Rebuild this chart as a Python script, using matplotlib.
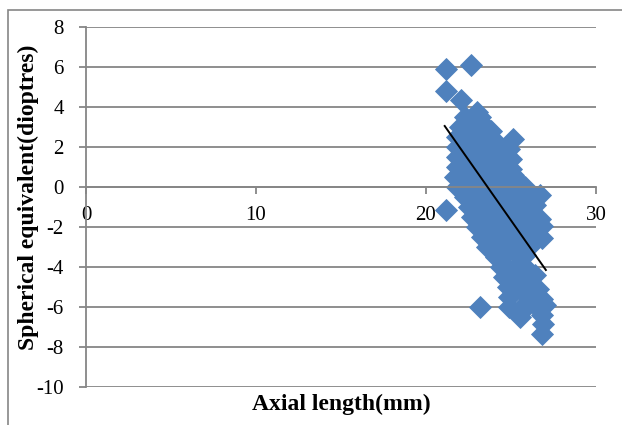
import matplotlib.pyplot as plt
from matplotlib.patches import Rectangle

# axial length (mm) vs spherical equivalent (dioptres)
axial = [21.2, 22.65, 21.2, 22.05, 23.0, 25.1, 21.2, 23.2, 26.8, 26.9,
         22.3, 22.8, 23.2,
         22.0, 22.5, 23.0, 23.5, 23.8,
         21.8, 22.3, 22.8, 23.3, 23.7, 24.05,
         21.8, 22.3, 22.8, 23.3, 23.8, 24.3, 24.9,
         21.8, 22.2, 22.7, 23.2, 23.7, 24.2, 24.6, 25.0,
         21.8, 22.3, 22.8, 23.3, 23.8, 24.3, 24.7, 25.0,
         21.7, 22.2, 22.7, 23.2, 23.7, 24.2, 24.7, 25.1, 25.4,
         21.8, 22.3, 22.8, 23.3, 23.8, 24.3, 24.8, 25.3, 25.8, 26.7,
         22.3, 22.8, 23.3, 23.8, 24.3, 24.8, 25.3, 25.8, 26.4,
         22.5, 23.0, 23.5, 24.0, 24.5, 25.0, 25.5, 26.0, 26.4,
         22.7, 23.2, 23.7, 24.2, 24.7, 25.2, 25.7, 26.2, 26.7,
         23.0, 23.5, 24.0, 24.5, 25.0, 25.5, 26.0, 26.4, 26.8,
         23.3, 23.8, 24.3, 24.8, 25.3, 25.8, 26.3, 26.8,
         23.6, 24.1, 24.6, 25.1, 25.6, 26.1,
         24.1, 24.6, 25.5, 25.8,
         24.4, 24.9, 25.4, 25.8,
         24.6, 25.1, 25.6, 26.0, 26.4,
         24.8, 25.3, 25.8, 26.2, 26.6,
         24.9, 25.9, 26.4, 26.8,
         24.9, 25.5, 26.0, 26.5, 27.0,
         25.5, 26.8]
se = [5.9, 6.1, 4.8, 4.35, 3.75, 2.4, -1.15, -6.0, -7.35, -6.85,
      3.5, 3.4, 3.5,
      3.0, 3.1, 2.9, 3.0, 2.8,
      2.5, 2.4, 2.6, 2.5, 2.4, 2.3,
      2.0, 1.9, 2.1, 2.0, 1.9, 2.0, 1.9,
      1.5, 1.6, 1.4, 1.5, 1.6, 1.4, 1.5, 1.4,
      1.0, 0.9, 1.1, 1.0, 0.9, 1.1, 1.0, 0.9,
      0.5, 0.6, 0.4, 0.5, 0.6, 0.4, 0.5, 0.6, 0.3,
      0.0, -0.1, 0.1, 0.0, -0.1, 0.1, 0.0, -0.1, 0.0, -0.4,
      -0.5, -0.6, -0.4, -0.5, -0.6, -0.4, -0.5, -0.6, -0.5,
      -1.0, -1.1, -0.9, -1.0, -1.1, -0.9, -1.0, -1.1, -0.9,
      -1.5, -1.4, -1.6, -1.5, -1.4, -1.6, -1.5, -1.4, -1.6,
      -2.0, -2.1, -1.9, -2.0, -2.1, -1.9, -2.0, -2.1, -1.95,
      -2.5, -2.4, -2.6, -2.5, -2.4, -2.6, -2.5, -2.55,
      -3.0, -3.1, -2.9, -3.0, -3.1, -2.95,
      -3.5, -3.4, -3.5, -3.4,
      -4.0, -4.1, -3.9, -4.0,
      -4.5, -4.4, -4.6, -4.5, -4.4,
      -5.0, -5.1, -4.9, -5.0, -5.1,
      -5.5, -5.4, -5.5, -5.6,
      -6.0, -6.1, -5.9, -6.0, -5.9,
      -6.5, -6.4]

# linear trend line end points
trend_x = [21.1, 27.05]
trend_y = [3.05, -4.15]

x_ticks = [0, 10, 20, 30]
y_ticks = [8, 6, 4, 2, 0, -2, -4, -6, -8, -10]

plt.rcParams['font.family'] = ['Liberation Serif', 'DejaVu Serif']
plt.rcParams['axes.unicode_minus'] = False
grey = '#868686'

fig = plt.figure(figsize=(6.22, 4.25), dpi=100)
ax = fig.add_axes([86/622, 38/425, 510/622, 360/425])

for yv in y_ticks:
    ax.axhline(yv, color=grey, lw=1.3, zorder=0)

ax.plot(axial, se, 'D', color='#4F81BD', ms=11, mec='#4F81BD', mew=0.6, zorder=2)
ax.plot(trend_x, trend_y, color='black', lw=1.4, zorder=3)

ax.set_xlim(0, 30)
ax.set_ylim(-10, 8)
ax.set_xticks(x_ticks)
ax.set_yticks(y_ticks)

ax.spines['top'].set_visible(False)
ax.spines['right'].set_visible(False)
ax.spines['left'].set_color(grey)
ax.spines['left'].set_linewidth(1.3)
ax.spines['bottom'].set_position(('data', 0))
ax.spines['bottom'].set_color(grey)
ax.spines['bottom'].set_linewidth(1.3)
ax.tick_params(axis='y', length=5, width=1.3, color=grey, pad=11, labelsize=15)
ax.tick_params(axis='x', length=5, width=1.3, color=grey, pad=9, labelsize=15)

fig.text(28/622, 1 - 197/425, 'Spherical equivalent(dioptres)', rotation=90,
         ha='center', va='center', fontsize=17, fontweight='bold')
fig.text(341/622, 1 - 404/425, 'Axial length(mm)', ha='center', va='center',
         fontsize=17, fontweight='bold')

fig.patches.append(Rectangle((8/622, -0.1), 1.2, 1.1 - 10/425, transform=fig.transFigure,
                             fill=False, edgecolor=grey, lw=1.2))

plt.savefig('out.png', dpi=100)
